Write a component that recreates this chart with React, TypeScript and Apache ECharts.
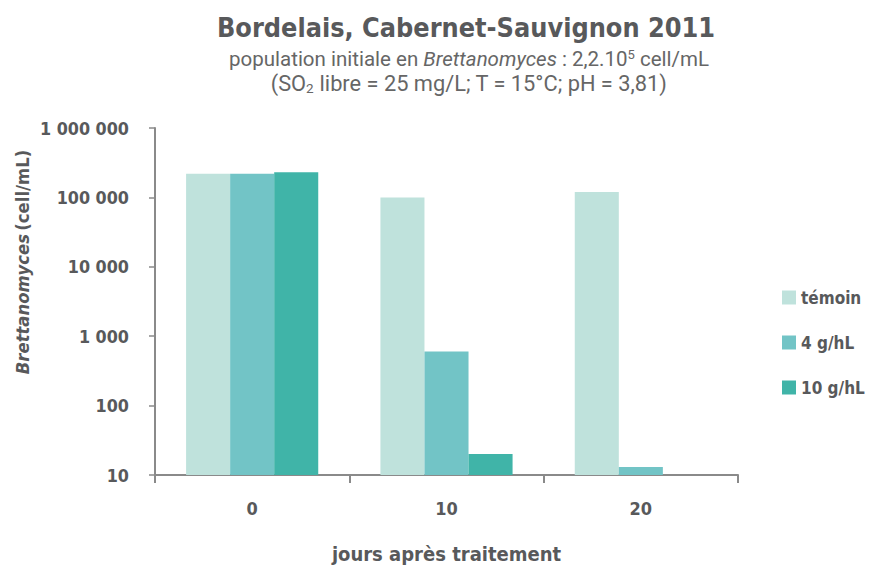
import React, { useEffect, useRef } from "react";
import * as echarts from "echarts";

const categories = ["0", "10", "20"];
const seriesNames = ["témoin", "4 g/hL", "10 g/hL"];
const temoin = [220000, 100000, 120000];
const dose4 = [220000, 600, 13];
const dose10: (number | null)[] = [230000, 20, null];
const colors = ["#bfe2dc", "#72c4c6", "#40b4a8"];

const FONT = "'DejaVu Sans Condensed', 'Liberation Sans Narrow', sans-serif";
const SUBFONT = "Roboto, 'Liberation Sans', sans-serif";
const TXT = "#58595b";

function fmt(v: number): string {
  return String(Math.round(v)).replace(/\B(?=(\d{3})+(?!\d))/g, " ");
}

export default function App() {
  const ref = useRef<HTMLDivElement>(null);
  useEffect(() => {
    document.body.style.margin = "0";
    if (!ref.current) return;
    const chart = echarts.init(ref.current, undefined, { renderer: "svg" });
    const data = [temoin, dose4, dose10];
    chart.setOption({
      animation: false,
      backgroundColor: "#ffffff",
      title: {
        text: "Bordelais, Cabernet-Sauvignon 2011",
        left: 461,
        textAlign: "center",
        top: 9,
        textStyle: { fontFamily: FONT, fontWeight: "bold", fontSize: 26.8, color: TXT },
      },
      graphic: [
        {
          type: "text",
          x: 469,
          y: 48,
          style: {
            text: "{r|population initiale en }{i|Brettanomyces}{r| : 2,2.10}{s|5}{r| cell/mL}",
            align: "center",
            verticalAlign: "top",
            rich: {
              r: { fontFamily: SUBFONT, fontSize: 20.5, fill: "#666666", fontWeight: "normal" },
              i: { fontFamily: SUBFONT, fontSize: 20.5, fill: "#666666", fontStyle: "italic" },
              s: { fontFamily: SUBFONT, fontSize: 13, fill: "#666666", padding: [0, 0, 9, 0] },
            },
          },
        },
        {
          type: "text",
          x: 469,
          y: 72,
          style: {
            text: "{r|(SO}{s|2}{r| libre = 25 mg/L; T = 15°C; pH = 3,81)}",
            align: "center",
            verticalAlign: "top",
            rich: {
              r: { fontFamily: SUBFONT, fontSize: 21.8, fill: "#666666" },
              s: { fontFamily: SUBFONT, fontSize: 13.5, fill: "#666666", padding: [9, 0, 0, 0] },
            },
          },
        },
        {
          type: "text",
          x: 22,
          y: 262,
          rotation: Math.PI / 2,
          style: {
            text: "{i|Brettanomyces} {b|(cell/mL)}",
            align: "center",
            verticalAlign: "middle",
            rich: {
              i: { fontFamily: FONT, fontStyle: "italic", fontWeight: "bold", fontSize: 18.3, fill: TXT },
              b: { fontFamily: FONT, fontWeight: "bold", fontSize: 18.3, fill: TXT },
            },
          },
        },
      ],
      legend: {
        orient: "vertical",
        left: 777,
        top: 284,
        itemWidth: 14,
        itemHeight: 14,
        itemGap: 28,
        icon: "rect",
        textStyle: { fontFamily: FONT, fontWeight: "bold", fontSize: 17, color: TXT },
        data: seriesNames,
      },
      grid: { left: 155, right: 142, top: 128, bottom: 91, outerBoundsMode: "none", containLabel: false },
      xAxis: {
        type: "category",
        data: categories,
        axisLine: { lineStyle: { color: "#8a8a8a", width: 2 } },
        axisTick: { show: true, length: 8, lineStyle: { color: "#8a8a8a", width: 2 } },
        axisLabel: { fontFamily: FONT, fontWeight: "bold", fontSize: 18, color: TXT, margin: 24 },
        name: "jours après traitement",
        nameLocation: "middle",
        nameGap: 69,
        nameTextStyle: { fontFamily: FONT, fontWeight: "bold", fontSize: 20, color: TXT },
      },
      yAxis: {
        type: "log",
        logBase: 10,
        min: 10,
        max: 1000000,
        splitLine: { show: false },
        axisLine: { show: true, lineStyle: { color: "#8a8a8a", width: 2 } },
        axisTick: { show: true, length: 6, lineStyle: { color: "#8a8a8a", width: 1.5 } },
        axisLabel: {
          fontFamily: FONT,
          fontWeight: "bold",
          fontSize: 17.8,
          color: TXT,
          margin: 26,
          formatter: (v: number) => fmt(v),
        },
      },
      series: seriesNames.map((n, i) => ({
        name: n,
        type: "bar",
        data: data[i],
        barGap: "0%",
        barCategoryGap: "32%",
        clip: true,
        itemStyle: { color: colors[i] },
      })),
    });
    return () => chart.dispose();
  }, []);
  return (
    <div
      ref={ref}
      style={{ position: "fixed", left: 0, top: 0, width: 880, height: 566 }}
    />
  );
}
